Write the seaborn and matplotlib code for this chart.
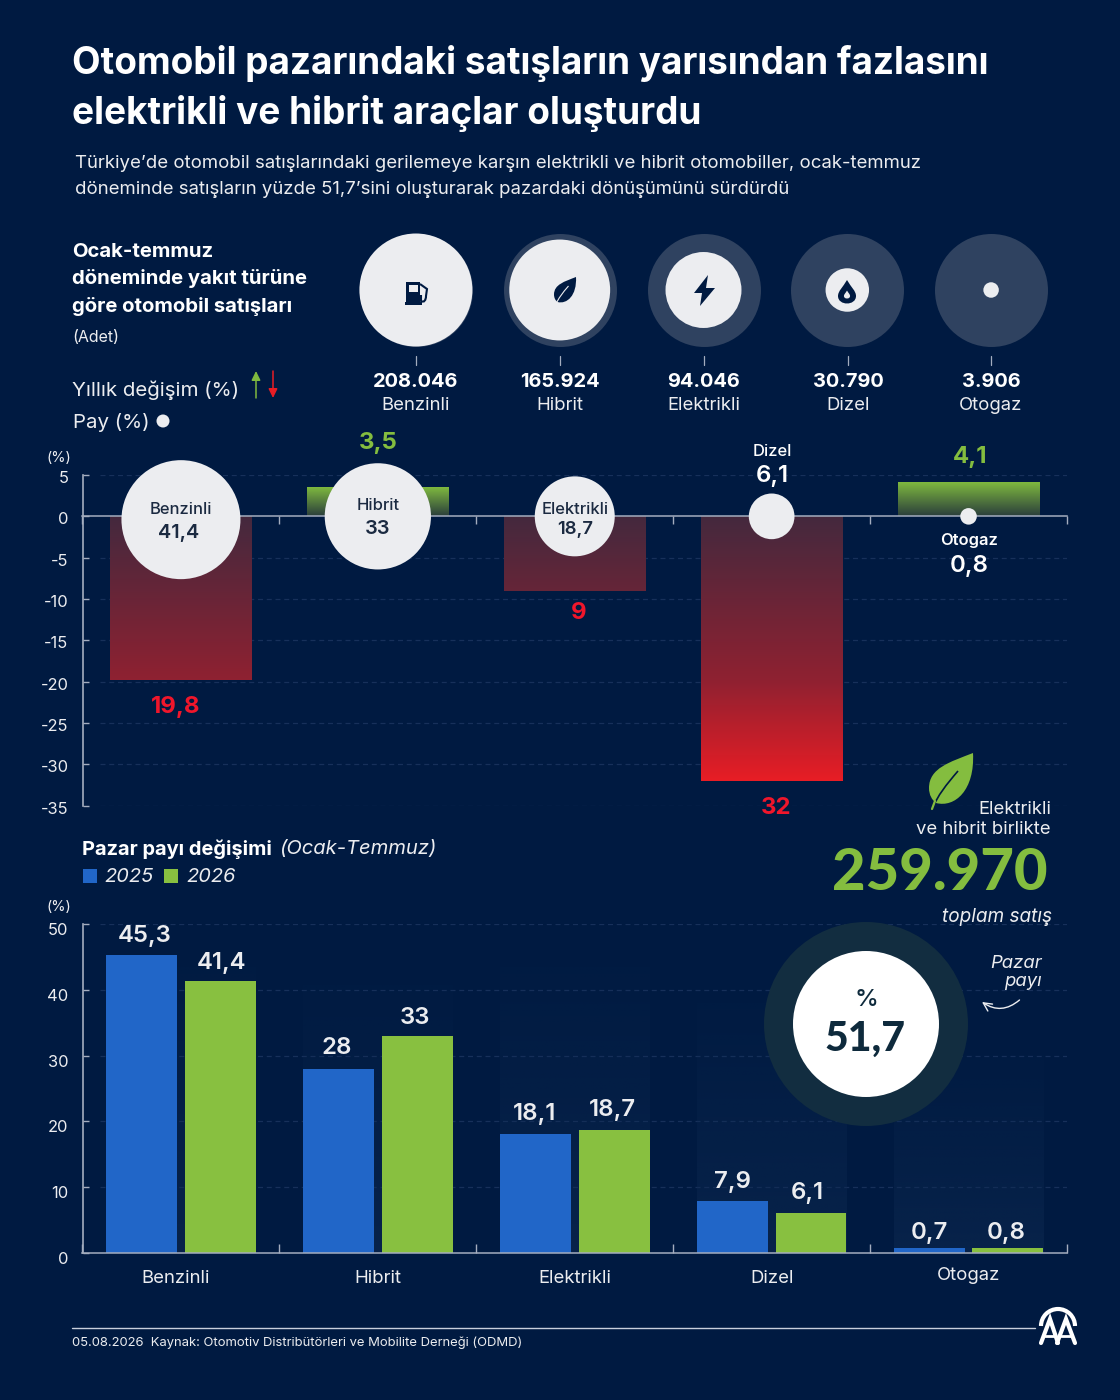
import numpy as np
import pandas as pd
import matplotlib
matplotlib.use('Agg')
import matplotlib.pyplot as plt
import seaborn as sns
from matplotlib.colors import LinearSegmentedColormap
from matplotlib.patches import Circle, FancyArrowPatch, PathPatch, Polygon, Rectangle, Arc
from matplotlib.path import Path
from matplotlib.transforms import Affine2D, ScaledTranslation

# values
fuel_types = ['Benzinli', 'Hibrit', 'Elektrikli', 'Dizel', 'Otogaz']
sales = [208046, 165924, 94046, 30790, 3906]
sales_labels = ['208.046', '165.924', '94.046', '30.790', '3.906']
yearly_change = [-19.8, 3.5, -9, -32, 4.1]
share_2025 = [45.3, 28, 18.1, 7.9, 0.7]
share_2026 = [41.4, 33, 18.7, 6.1, 0.8]
years = ['2025', '2026']
top_ticks = [5, 0, -5, -10, -15, -20, -25, -30, -35]
bottom_ticks = [0, 10, 20, 30, 40, 50]
combined_sales = '259.970'
combined_share = '51,7'

BG = '#001a41'
WHITE = '#ffffff'
LIGHT = '#ecedf0'
AXIS = '#a4adbf'
GRID = '#17305a'
BLUE = '#2166c8'
GREEN = '#88c040'
TEXT_GREEN = '#84bd3f'
TEXT_RED = '#f0162b'
DARK = '#1b2a41'

sns.set_theme(style='white')
plt.rcParams['font.family'] = ['Inter', 'DejaVu Sans']
plt.rcParams['axes.unicode_minus'] = False

W, H = 1120, 1400
fig = plt.figure(figsize=(W / 100, H / 100), dpi=100, facecolor=BG)


def px_axes(left, top, right, bottom, z=1):
    ax = fig.add_axes([left / W, 1 - bottom / H, (right - left) / W, (bottom - top) / H], zorder=z)
    ax.patch.set_alpha(0)
    return ax


def num(v):
    return f'{abs(v):g}'.replace('.', ',')


# overlay in pixel coordinates for all the infographic text
over = px_axes(0, 0, W, H, z=6)
over.set_xlim(0, W)
over.set_ylim(H, 0)
over.axis('off')


def txt(x, y, s, px, color=WHITE, weight='normal', ha='center', style='normal', family=None):
    # the +2 brings Inter's box centre onto the x-height centre
    t = over.text(x, y + 2, s, fontsize=px * 0.72, color=color, fontweight=weight, ha=ha, va='center',
                  fontstyle=style)
    if family:
        t.set_fontfamily(family)


def shift_label(label, dx=0, dy=0):
    label.set_transform(label.get_transform() + ScaledTranslation(dx / 100, -dy / 100, fig.dpi_scale_trans))


def style_axes(ax, ticks, tick_labels_px=16.5):
    for side in ['top', 'right']:
        ax.spines[side].set_visible(False)
    ax.spines['left'].set_color(AXIS)
    ax.spines['left'].set_linewidth(1.2)
    ax.spines['bottom'].set_color(AXIS)
    ax.spines['bottom'].set_linewidth(1.1)
    ax.set_yticks(ticks)
    ax.set_yticklabels([str(t) for t in ticks])
    ax.tick_params(axis='y', direction='in', length=4.5, width=1, color=AXIS, labelcolor=LIGHT,
                   labelsize=tick_labels_px * 0.72, pad=10, left=True)
    ax.set_xlabel('')
    ax.set_ylabel('')
    ax.set_xlim(-0.5, 4.5)
    ax.xaxis.set_minor_locator(matplotlib.ticker.FixedLocator(np.arange(-0.5, 5, 1)))
    ax.hlines([t for t in ticks if t != 0], -0.41, 4.5, color=GRID, lw=0.9, ls=(0, (4, 3)), zorder=0)


# --------------------------------------------------
# sales bubbles
# --------------------------------------------------
bub = px_axes(344, 225, 1063, 355, z=2)
x_pos = np.arange(len(fuel_types))
sns.scatterplot(x=x_pos, y=np.zeros(5), s=6619, color='#2f4260', linewidth=0, ax=bub, clip_on=False, legend=False)
k = 6619 / max(sales)
sns.scatterplot(x=x_pos, y=np.zeros(5), size=sales, sizes=(min(sales) * k, max(sales) * k),
                size_norm=(min(sales), max(sales)), color=LIGHT, linewidth=0, ax=bub, clip_on=False, legend=False)
bub.set_xlim(-0.5, 4.5)
bub.set_ylim(-1, 1)
bub.axis('off')

for cx, value, name in zip([416, 560, 704, 848, 991], sales_labels, fuel_types):
    over.plot([cx, cx], [356, 365], color=AXIS, lw=0.9)
    txt(cx, 380, value, 20, weight='bold')
    txt(cx, 403, name, 18.5, color=LIGHT)

# --------------------------------------------------
# yearly change
# --------------------------------------------------
top = px_axes(82.5, 475, 1067, 805.8)
sns.barplot(x=fuel_types, y=yearly_change, order=fuel_types, width=0.72, color=GREEN, saturation=1,
            linewidth=0, ax=top, zorder=2)
style_axes(top, top_ticks)
top.set_ylim(-35, 5)
top.spines['bottom'].set_position(('data', 0))
top.tick_params(axis='x', which='major', length=0, labelbottom=False)
top.tick_params(axis='x', which='minor', bottom=True, direction='out', length=5.5, width=1, color=AXIS)
for label in top.get_yticklabels():
    shift_label(label, dy=2)

red_cmap = LinearSegmentedColormap.from_list('red', [(0, '#44293e'), (0.62, '#8f2131'), (1, '#e81d25')])
green_cmap = LinearSegmentedColormap.from_list('grn', ['#2a3e3c', '#7fb93f'])
grad = np.linspace(0, 1, 256).reshape(-1, 1)
for bar, change in zip(top.patches, yearly_change):
    x0, x1 = bar.get_x(), bar.get_x() + bar.get_width()
    if change < 0:
        # all red bars share one scale, from 0 down to the lowest value
        im = top.imshow(grad, extent=[x0, x1, min(yearly_change), 0], origin='upper', aspect='auto',
                        cmap=red_cmap, zorder=2.5)
    else:
        im = top.imshow(grad, extent=[x0, x1, 0, change], origin='lower', aspect='auto',
                        cmap=green_cmap, zorder=2.5)
    im.set_clip_path(bar)
top.set_xlim(-0.5, 4.5)
top.set_ylim(-35, 5)

k_share = 177.3
sns.scatterplot(x=x_pos, y=[-0.4, 0, 0, 0, 0], size=share_2026,
                sizes=(min(share_2026) * k_share, max(share_2026) * k_share),
                size_norm=(min(share_2026), max(share_2026)), color=LIGHT, linewidth=0, ax=top,
                clip_on=False, legend=False, zorder=4)
top.set_xlim(-0.5, 4.5)
top.set_ylim(-35, 5)

txt(176, 705, num(yearly_change[0]), 24, TEXT_RED, 'bold')
txt(378, 441, num(yearly_change[1]), 24, TEXT_GREEN, 'bold')
txt(579, 611, num(yearly_change[2]), 24, TEXT_RED, 'bold')
txt(776, 806, num(yearly_change[3]), 24, TEXT_RED, 'bold')
txt(970, 455, num(yearly_change[4]), 24, TEXT_GREEN, 'bold')

txt(181, 507, fuel_types[0], 16.5, DARK, 'medium')
txt(179, 531, num(share_2026[0]), 20, DARK, 'semibold')
txt(378, 504, fuel_types[1], 16.5, DARK, 'medium')
txt(378, 527, num(share_2026[1]), 20, DARK, 'semibold')
txt(575, 507, fuel_types[2], 16.5, DARK, 'medium')
txt(575, 527, num(share_2026[2]), 18.5, DARK, 'semibold')
txt(772, 450, fuel_types[3], 16.5, WHITE, 'medium')
txt(772, 474, num(share_2026[3]), 24, WHITE, 'semibold')
txt(969, 539, fuel_types[4], 16.5, WHITE, 'semibold')
txt(969, 564, num(share_2026[4]), 24, WHITE, 'semibold')
txt(47, 456, '(%)', 14.5, LIGHT, ha='left')

# --------------------------------------------------
# market share by year
# --------------------------------------------------
# columns fade upward behind each group
column_tops = [49, 46, 49, 43, 34]
bot = px_axes(82.5, 924, 1067, 1253)
fade = np.zeros((256, 1, 4))
fade[..., :3] = matplotlib.colors.to_rgb('#0e2a52')
fade[..., 3] = np.linspace(0, 0.55, 256).reshape(-1, 1)
for i, col_top in enumerate(column_tops):
    bot.imshow(fade, extent=[i - 0.38, i + 0.38, 0, col_top], origin='upper', aspect='auto', zorder=0.5)

share_long = pd.DataFrame({
    'yakit': fuel_types * 2,
    'yil': [years[0]] * 5 + [years[1]] * 5,
    'pay': share_2025 + share_2026,
})
sns.barplot(data=share_long, x='yakit', y='pay', hue='yil', order=fuel_types, hue_order=years,
            palette=[BLUE, GREEN], width=0.8, gap=0.1, saturation=1, linewidth=0, legend=False, ax=bot, zorder=2)
style_axes(bot, bottom_ticks)
bot.set_ylim(0, 50)
bot.tick_params(axis='x', which='major', length=0, labelcolor=LIGHT, labelsize=18.5 * 0.72, pad=12.5)
bot.tick_params(axis='x', which='minor', bottom=True, direction='in', length=6.5, width=1, color=AXIS)
for label in bot.get_yticklabels():
    shift_label(label, dy=5)
shift_label(bot.get_xticklabels()[0], dx=-5)
shift_label(bot.get_xticklabels()[4], dy=-3)

positions_2025 = [(145, 934), (337, 1046), (535, 1112), (732, 1180), (929, 1231)]
positions_2026 = [(221, 961), (415, 1016), (612, 1108), (807, 1191), (1006, 1231)]
for (x, y), v in zip(positions_2025, share_2025):
    txt(x, y, num(v), 24, LIGHT, 'semibold')
for (x, y), v in zip(positions_2026, share_2026):
    txt(x, y, num(v), 24, LIGHT, 'semibold')

txt(47, 905, '(%)', 14.5, LIGHT, ha='left')
txt(82, 847, 'Pazar payı değişimi', 20, WHITE, 'bold', ha='left')
txt(279, 847, '(Ocak-Temmuz)', 20.2, LIGHT, ha='left', style='italic')
over.add_patch(Rectangle((83, 869), 13.5, 13.5, color=BLUE, lw=0))
over.add_patch(Rectangle((164, 869), 13.5, 13.5, color=GREEN, lw=0))
txt(104, 875, years[0], 20, LIGHT, ha='left', style='italic')
txt(186, 875, years[1], 20, LIGHT, ha='left', style='italic')

# --------------------------------------------------
# header text
# --------------------------------------------------
txt(72, 61, 'Otomobil pazarındaki satışların yarısından fazlasını', 37, WHITE, 'bold', ha='left')
txt(72, 111, 'elektrikli ve hibrit araçlar oluşturdu', 37, WHITE, 'bold', ha='left')
txt(75, 162, 'Türkiye’de otomobil satışlarındaki gerilemeye karşın elektrikli ve hibrit otomobiller, ocak-temmuz', 18.6, LIGHT, ha='left')
txt(75, 187, 'döneminde satışların yüzde 51,7’sini oluşturarak pazardaki dönüşümünü sürdürdü', 18.6, LIGHT, ha='left')
txt(72, 250, 'Ocak-temmuz', 20.3, WHITE, 'bold', ha='left')
txt(72, 277, 'döneminde yakıt türüne', 20.3, WHITE, 'bold', ha='left')
txt(72, 305, 'göre otomobil satışları', 20.3, WHITE, 'bold', ha='left')
txt(72, 336, '(Adet)', 16, LIGHT, ha='left')
txt(72, 388, 'Yıllık değişim (%)', 20.5, LIGHT, ha='left')
txt(73, 420, 'Pay (%)', 20.5, LIGHT, ha='left')
over.add_patch(Circle((163, 421), 6.5, color=LIGHT, lw=0))
over.annotate('', xy=(256, 371), xytext=(256, 398),
              arrowprops=dict(arrowstyle='-|>,head_width=0.22,head_length=0.45', color='#7fb93f', lw=1.1, shrinkA=0, shrinkB=0))
over.annotate('', xy=(273, 398), xytext=(273, 371),
              arrowprops=dict(arrowstyle='-|>,head_width=0.22,head_length=0.45', color='#e81d25', lw=1.1, shrinkA=0, shrinkB=0))

# --------------------------------------------------
# combined callout
# --------------------------------------------------
txt(1051, 807, 'Elektrikli', 18.5, LIGHT, ha='right')
txt(1051, 828, 've hibrit birlikte', 18.5, LIGHT, ha='right')
txt(1048, 872, combined_sales, 58, TEXT_GREEN, 'black', ha='right', family=['Lato', 'DejaVu Sans'])
txt(1052, 915, 'toplam satış', 19, LIGHT, ha='right', style='italic')
txt(1042, 962, 'Pazar', 18.5, LIGHT, ha='right', style='italic')
txt(1042, 980, 'payı', 18.5, LIGHT, ha='right', style='italic')
over.add_patch(Circle((866, 1024), 102, color='#122d40', lw=0))
over.add_patch(Circle((866, 1024), 73, color=WHITE, lw=0))
txt(866, 998, '%', 24, '#0e2a3c', 'medium')
txt(865, 1037, combined_share, 41, '#0e2a3c', 'black', family=['Lato', 'DejaVu Sans'])
over.add_patch(FancyArrowPatch((1019.5, 1000), (982, 1002), connectionstyle='arc3,rad=-0.38',
                               arrowstyle='->,head_width=3,head_length=6', color=LIGHT, lw=1,
                               mutation_scale=1, shrinkA=0, shrinkB=0))

# --------------------------------------------------
# icons
# --------------------------------------------------
leaf_verts = [(973, 753), (950, 762), (929, 768), (929, 788), (929, 795), (932, 800), (936, 803),
              (955, 808), (975, 790), (973, 753)]
leaf_codes = [Path.MOVETO] + [Path.CURVE4] * 9
leaf = Path(leaf_verts, leaf_codes)
vein = Path([(932, 809), (938, 795), (946, 785), (958, 771)], [Path.MOVETO, Path.CURVE4, Path.CURVE4, Path.CURVE4])
over.add_patch(PathPatch(leaf, facecolor=TEXT_GREEN, edgecolor='none'))
over.add_patch(PathPatch(vein, facecolor='none', edgecolor=BG, lw=1.2))
over.plot([932, 935], [809, 801], color=TEXT_GREEN, lw=1.6)

small = Affine2D().translate(-973, -753).scale(0.5).translate(576, 277)
over.add_patch(PathPatch(leaf.transformed(small), facecolor=BG, edgecolor='none'))
over.add_patch(PathPatch(vein.transformed(small), facecolor='none', edgecolor=LIGHT, lw=0.8))

# fuel pump
over.add_patch(Rectangle((406, 282), 14, 21, color=BG, lw=0))
over.add_patch(Rectangle((405, 302), 17, 3, color=BG, lw=0))
over.add_patch(Rectangle((408.5, 285), 9, 6.5, color=LIGHT, lw=0))
pump_hose = Path([(420, 284), (427, 289), (426, 296), (426, 300), (424, 303), (421, 301), (421, 295)],
                 [Path.MOVETO, Path.LINETO, Path.LINETO, Path.CURVE4, Path.CURVE4, Path.CURVE4, Path.LINETO])
over.add_patch(PathPatch(pump_hose, facecolor='none', edgecolor=BG, lw=1.5))

# bolt
over.add_patch(Polygon([(708, 275), (694, 293), (702, 293), (700, 306), (715, 288), (706, 288)], color=BG, lw=0))

# drop
drop = Path([(847, 280), (843, 287), (838, 291), (838, 296), (838, 306), (856, 306), (856, 296),
             (856, 291), (851, 287), (847, 280)], [Path.MOVETO] + [Path.CURVE4] * 9)
over.add_patch(PathPatch(drop, facecolor=BG, edgecolor='none'))
inner_drop = Affine2D().translate(-847, -296).scale(0.34).translate(847, 296)
over.add_patch(PathPatch(drop.transformed(inner_drop), facecolor=LIGHT, edgecolor='none'))

# --------------------------------------------------
# footer
# --------------------------------------------------
over.plot([72, 1035], [1328, 1328], color='#c8cfdc', lw=1)
txt(72, 1341, '05.08.2026  Kaynak: Otomotiv Distribütörleri ve Mobilite Derneği (ODMD)', 13, LIGHT, ha='left')
over.add_patch(Arc((1058, 1326), 34, 34, theta1=180, theta2=360, color=WHITE, lw=3))
for apex, left, right in [(1050, 1041, 1058), (1066, 1057, 1075)]:
    over.plot([left, apex, right], [1343, 1319, 1343], color=WHITE, lw=3, solid_joinstyle='miter')
    over.plot([left + 4, right - 4], [1336, 1336], color=WHITE, lw=2)

fig.savefig('out.png', dpi=100, facecolor=BG)
